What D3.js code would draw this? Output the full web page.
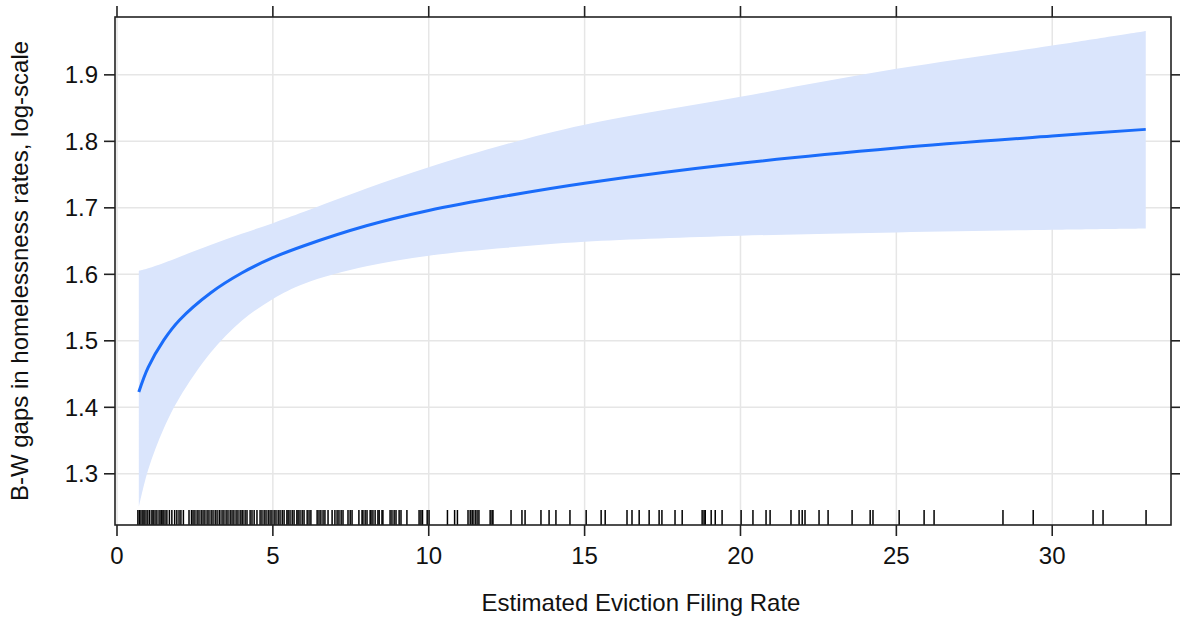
<!DOCTYPE html>
<html lang="en">
  <head>
    <meta charset="utf-8">
    <title>Eviction filing rate effect</title>

    <script type="text/javascript" src="https://d3js.org/d3.v7.min.js"></script>

    <style>
      body {
        margin: 0;
        background: #ffffff;
        font-family: 'Liberation Sans', Arial, sans-serif;
      }
      .grid-line {
        stroke: #e6e6e6;
        stroke-width: 1.5;
      }
      .panel-box {
        fill: none;
        stroke: #222222;
        stroke-width: 1.6;
      }
      .ci-band {
        fill: #dae5fc;
      }
      .fit-line {
        fill: none;
        stroke: #1a6cfa;
        stroke-width: 3;
      }
      .rug-tick {
        stroke: #000000;
        stroke-width: 1.5;
      }
      .axis-tick {
        stroke: #222222;
        stroke-width: 1.6;
      }
      .tick-label,
      .axis-title {
        font-size: 24px;
        fill: #111111;
      }
    </style>
  </head>
  <body>

    <div id="chart"></div>

    <script type="text/javascript">

      // effect estimates
      var filingRate = [0.7, 1, 1.5, 2, 3, 4, 5, 6, 8, 10, 12.5, 15, 20, 25, 30, 33];
      var fitGap =     [1.423, 1.460, 1.501, 1.531, 1.572, 1.602, 1.625, 1.643, 1.673, 1.696, 1.718, 1.737, 1.767, 1.790, 1.808, 1.818];
      var lowerGap =   [1.250, 1.306, 1.368, 1.414, 1.482, 1.530, 1.563, 1.586, 1.612, 1.628, 1.640, 1.649, 1.658, 1.663, 1.667, 1.669];
      var upperGap =   [1.605, 1.609, 1.617, 1.626, 1.644, 1.661, 1.677, 1.694, 1.729, 1.761, 1.796, 1.825, 1.867, 1.909, 1.944, 1.966];

      // observed filing rates for the rug
      var rugRates = [
        0.67, 0.72, 0.77, 0.83, 0.87, 0.93, 0.99, 1.05, 1.12, 1.16, 1.22, 1.28, 1.35, 1.41, 1.44,
        1.48, 1.54, 1.60, 1.68, 1.76, 1.85, 1.92, 1.99, 2.05, 2.13, 2.31, 2.39,
        2.44, 2.50, 2.57, 2.63, 2.70, 2.76, 2.82, 2.89, 2.95, 3.02, 3.08, 3.15, 3.21, 3.28, 3.30,
        3.37, 3.43, 3.50, 3.56, 3.63, 3.69, 3.75, 3.82, 3.88, 3.95, 4.01, 4.04,
        4.11, 4.17, 4.27, 4.33, 4.40, 4.49, 4.59, 4.65, 4.72, 4.78, 4.85, 4.91, 4.97,
        5.04, 5.10, 5.17, 5.23, 5.30, 5.36, 5.45, 5.49, 5.55, 5.62, 5.68, 5.77,
        5.81, 5.87, 5.94, 6.00, 6.10, 6.16, 6.22, 6.42, 6.48, 6.54, 6.61, 6.67, 6.77,
        6.90, 6.99, 7.06, 7.12, 7.19, 7.25, 7.41, 7.48, 7.54, 7.76, 7.86, 7.89, 7.96,
        8.02, 8.12, 8.15, 8.21, 8.28, 8.37, 8.41, 8.50, 8.53, 8.76, 8.82, 8.89, 8.95,
        9.05, 9.11, 9.30, 9.69, 9.75, 9.80, 9.95, 10.01, 10.60, 10.83, 10.92,
        11.26, 11.33, 11.39, 11.42, 11.49, 11.55, 11.61, 11.97, 12.03, 12.06,
        12.64, 12.99, 13.09, 13.60, 13.86, 14.08, 14.53, 15.05, 15.53, 15.66, 16.36, 16.52,
        16.75, 17.07, 17.39, 17.48, 17.90, 18.13, 18.77, 18.83, 18.87, 19.06, 19.19, 19.41,
        20.02, 20.40, 20.82, 20.95, 21.62, 21.88, 21.98, 22.07, 22.52, 22.81, 23.58,
        24.16, 24.25, 25.09, 25.89, 26.21, 28.42, 29.39, 31.31, 31.63, 33.01
      ];

      var xTicks = [0, 5, 10, 15, 20, 25, 30];
      var yTicks = [1.3, 1.4, 1.5, 1.6, 1.7, 1.8, 1.9];

      var xTitle = 'Estimated Eviction Filing Rate';
      var yTitle = 'B-W gaps in homelessness rates, log-scale';

      var w = 1180;
      var h = 619;
      var panel = { left: 115, top: 17, right: 1171, bottom: 525 };

      var svg = d3.select('#chart')
        .append('svg')
          .attr('width', w)
          .attr('height', h);

      var xScale = d3.scaleLinear()
        .domain([-0.064, 33.81])
        .range([panel.left, panel.right]);

      var yScale = d3.scaleLinear()
        .domain([1.223, 1.987])
        .range([panel.bottom, panel.top]);

      // grid
      var grid = svg.append('g');
      grid.selectAll('.grid-x')
        .data(xTicks)
        .enter()
        .append('line')
          .attr('class', 'grid-line')
          .attr('x1', function(d) { return xScale(d); })
          .attr('x2', function(d) { return xScale(d); })
          .attr('y1', panel.top)
          .attr('y2', panel.bottom);
      grid.selectAll('.grid-y')
        .data(yTicks)
        .enter()
        .append('line')
          .attr('class', 'grid-line')
          .attr('x1', panel.left)
          .attr('x2', panel.right)
          .attr('y1', function(d) { return yScale(d); })
          .attr('y2', function(d) { return yScale(d); });

      var rows = filingRate.map(function(r, i) {
        return { x: r, fit: fitGap[i], lo: lowerGap[i], hi: upperGap[i] };
      });

      // confidence band
      var band = d3.area()
        .x(function(d) { return xScale(d.x); })
        .y0(function(d) { return yScale(d.lo); })
        .y1(function(d) { return yScale(d.hi); })
        .curve(d3.curveCatmullRom.alpha(0.5));

      svg.append('path')
        .datum(rows)
        .attr('class', 'ci-band')
        .attr('d', band);

      // fitted line
      var fitLine = d3.line()
        .x(function(d) { return xScale(d.x); })
        .y(function(d) { return yScale(d.fit); })
        .curve(d3.curveCatmullRom.alpha(0.5));

      svg.append('path')
        .datum(rows)
        .attr('class', 'fit-line')
        .attr('d', fitLine);

      // rug
      svg.append('g').selectAll('line')
        .data(rugRates)
        .enter()
        .append('line')
          .attr('class', 'rug-tick')
          .attr('x1', function(d) { return xScale(d); })
          .attr('x2', function(d) { return xScale(d); })
          .attr('y1', panel.bottom - 15)
          .attr('y2', panel.bottom);

      // panel border
      svg.append('rect')
        .attr('class', 'panel-box')
        .attr('x', panel.left)
        .attr('y', panel.top)
        .attr('width', panel.right - panel.left)
        .attr('height', panel.bottom - panel.top);

      // ticks on all four sides
      var ticks = svg.append('g');
      xTicks.forEach(function(t) {
        ticks.append('line').attr('class', 'axis-tick')
          .attr('x1', xScale(t)).attr('x2', xScale(t))
          .attr('y1', panel.bottom).attr('y2', panel.bottom + 11);
        ticks.append('line').attr('class', 'axis-tick')
          .attr('x1', xScale(t)).attr('x2', xScale(t))
          .attr('y1', panel.top).attr('y2', panel.top - 11);
        ticks.append('text').attr('class', 'tick-label')
          .attr('x', xScale(t))
          .attr('y', panel.bottom + 39)
          .attr('text-anchor', 'middle')
          .text(t);
      });
      yTicks.forEach(function(t) {
        ticks.append('line').attr('class', 'axis-tick')
          .attr('x1', panel.left).attr('x2', panel.left - 11)
          .attr('y1', yScale(t)).attr('y2', yScale(t));
        ticks.append('line').attr('class', 'axis-tick')
          .attr('x1', panel.right).attr('x2', panel.right + 10)
          .attr('y1', yScale(t)).attr('y2', yScale(t));
        ticks.append('text').attr('class', 'tick-label')
          .attr('x', panel.left - 17)
          .attr('y', yScale(t))
          .attr('dy', '0.35em')
          .attr('text-anchor', 'end')
          .text(d3.format('.1f')(t));
      });

      // titles
      svg.append('text')
        .attr('class', 'axis-title')
        .attr('x', (panel.left + panel.right) / 2 - 2)
        .attr('y', 611)
        .attr('text-anchor', 'middle')
        .text(xTitle);

      svg.append('text')
        .attr('class', 'axis-title')
        .attr('transform', 'translate(28,' + ((panel.top + panel.bottom) / 2) + ') rotate(-90)')
        .attr('text-anchor', 'middle')
        .text(yTitle);

    </script>

  </body>
</html>
